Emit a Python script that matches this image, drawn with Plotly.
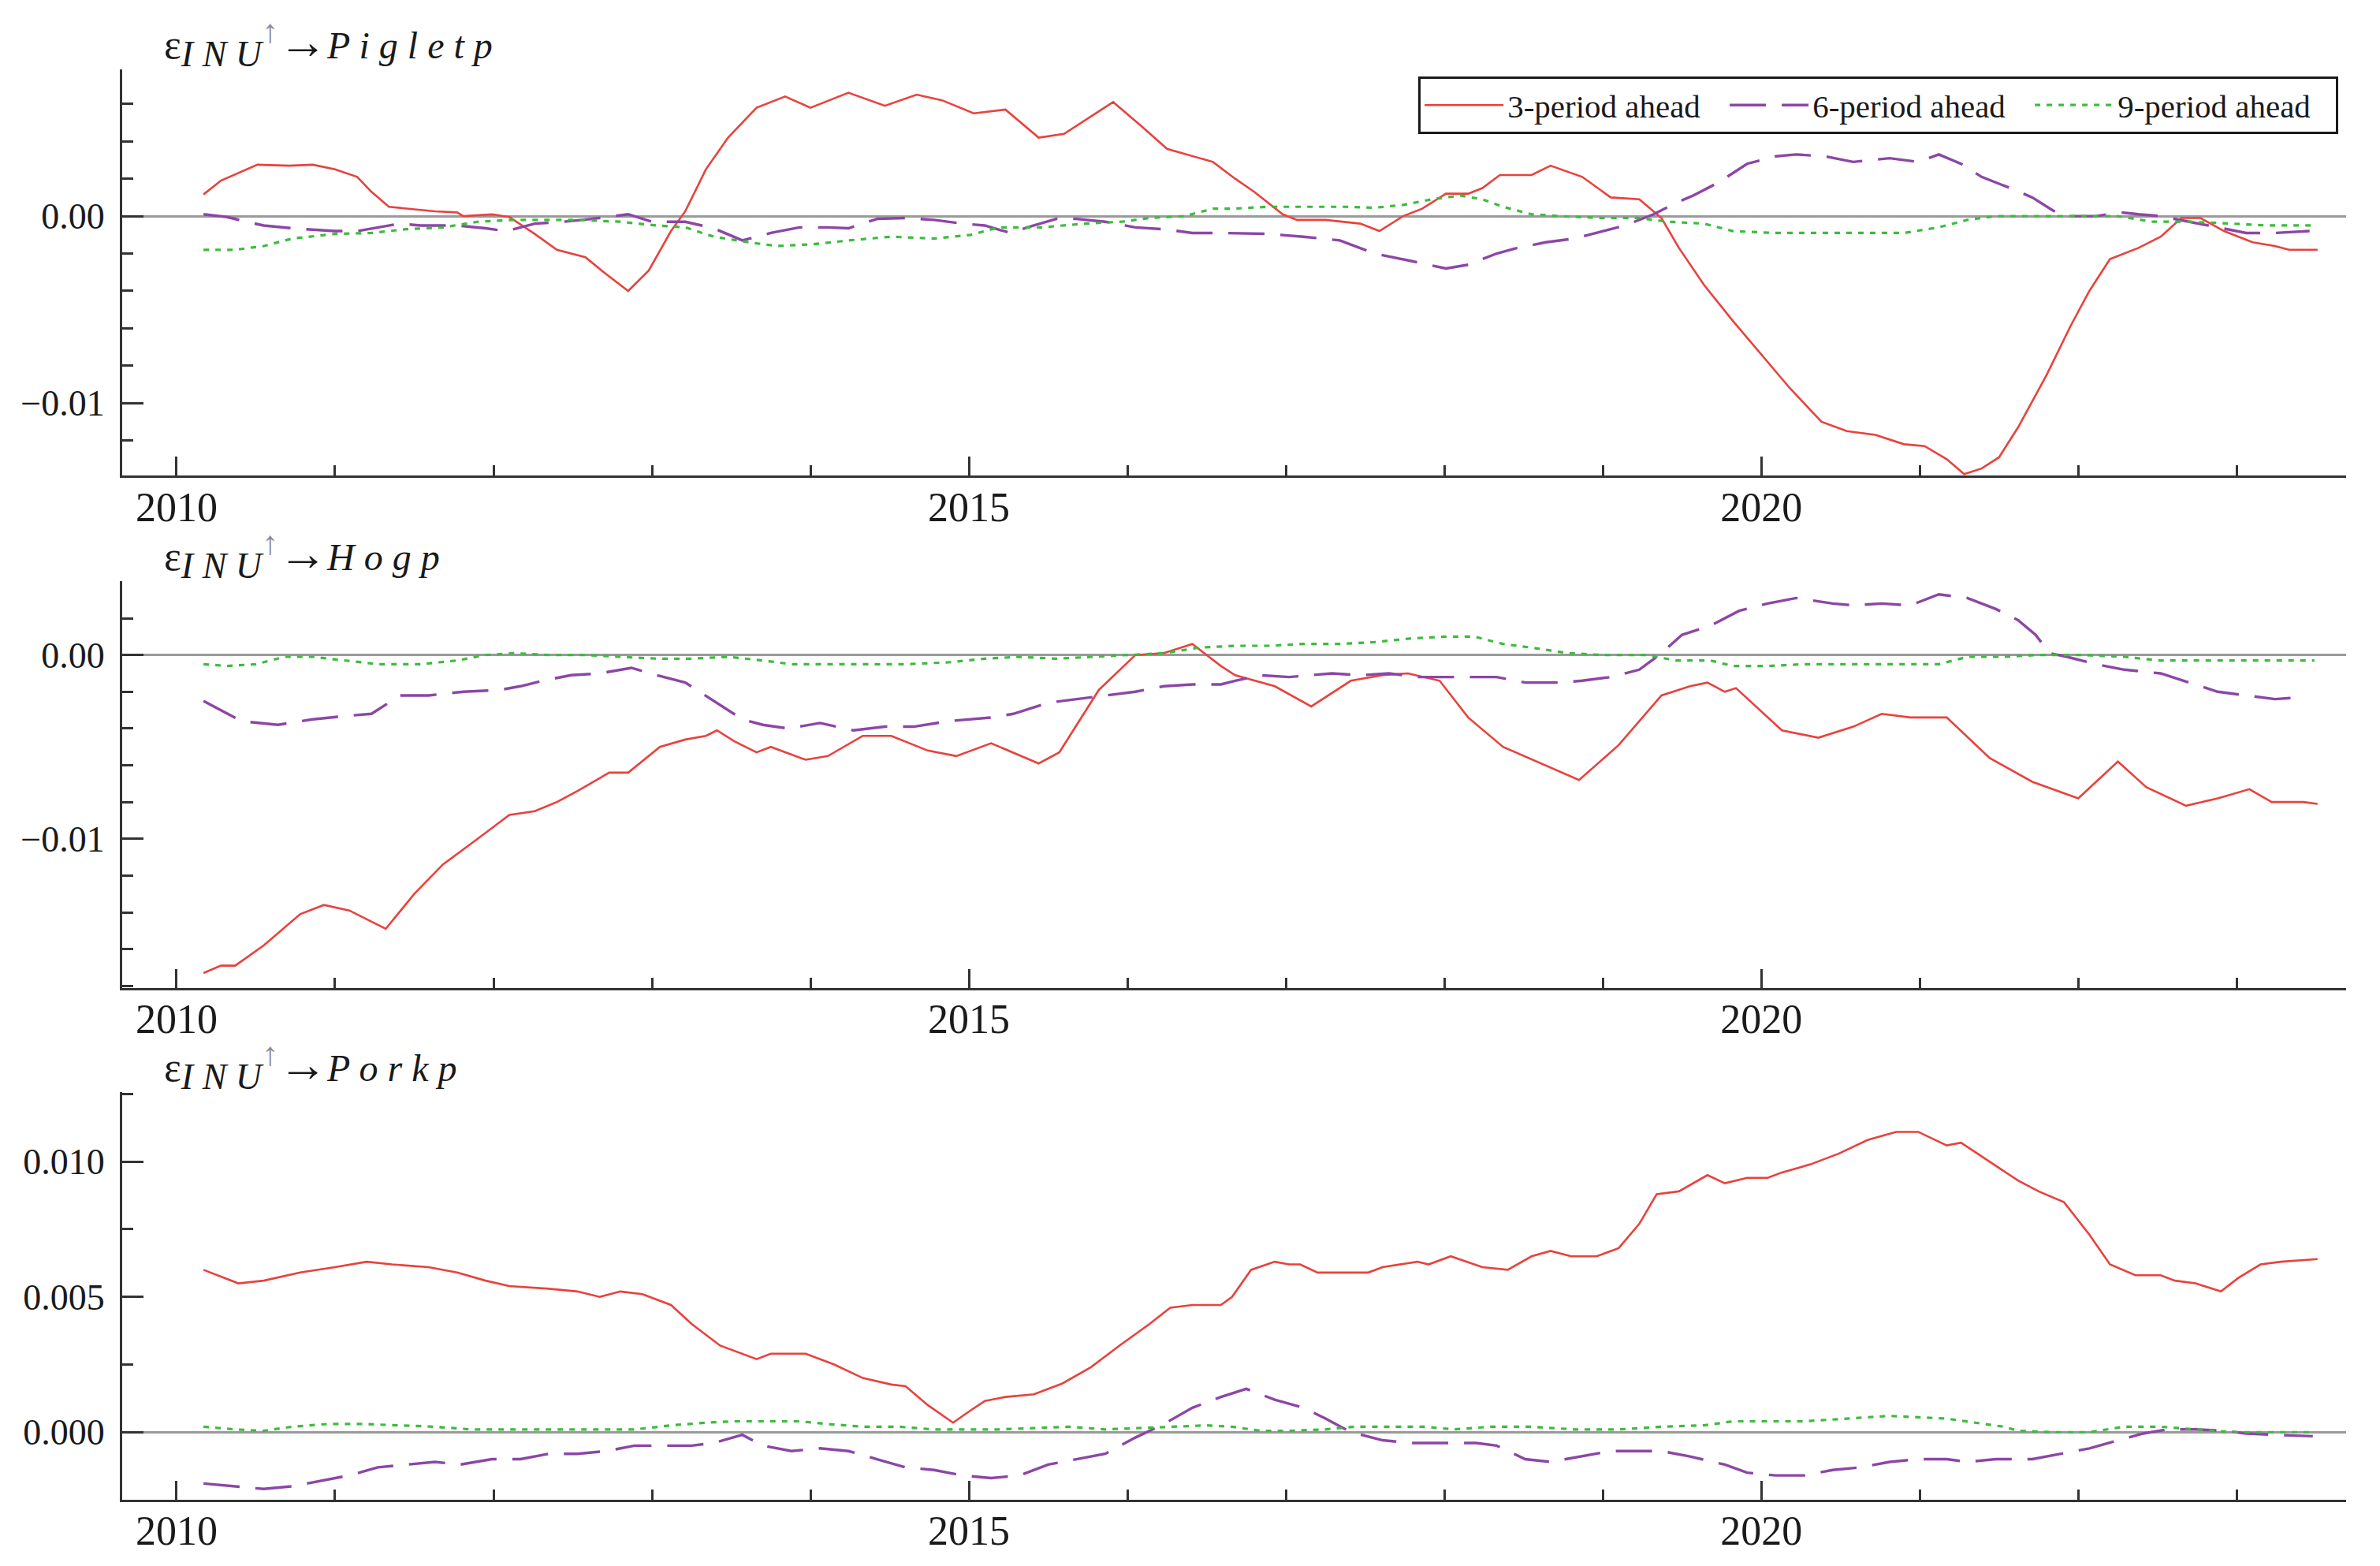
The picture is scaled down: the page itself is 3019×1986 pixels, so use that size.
import plotly.graph_objects as go

# ---------------- data (decimal years) ----------------
# Panel 1: INU -> Pigletp
p1_t3 = [2010.17, 2010.28, 2010.51, 2010.71, 2010.86, 2011.00, 2011.14, 2011.23, 2011.34, 2011.45,
         2011.63, 2011.77, 2011.81, 2011.99, 2012.10, 2012.26, 2012.40, 2012.58, 2012.71, 2012.85,
         2012.98, 2013.12, 2013.21, 2013.34, 2013.48, 2013.66, 2013.84, 2014.00, 2014.24, 2014.47,
         2014.67, 2014.83, 2015.03, 2015.23, 2015.44, 2015.60, 2015.91, 2016.09, 2016.25, 2016.54,
         2016.68, 2016.80, 2016.98, 2017.07, 2017.25, 2017.47, 2017.59, 2017.74, 2017.86, 2018.01,
         2018.15, 2018.24, 2018.35, 2018.55, 2018.67, 2018.87, 2019.05, 2019.23, 2019.37, 2019.48,
         2019.64, 2019.82, 2020.00, 2020.18, 2020.38, 2020.54, 2020.72, 2020.90, 2021.03, 2021.17,
         2021.28, 2021.39, 2021.50, 2021.62, 2021.80, 2021.95, 2022.07, 2022.20, 2022.38, 2022.52,
         2022.65, 2022.77, 2022.92, 2023.10, 2023.24, 2023.33, 2023.51]
p1_v3 = [0.00116, 0.0019, 0.00275, 0.0027, 0.00275, 0.0025, 0.0021, 0.0013, 0.0005, 0.0004,
         0.00026, 0.0002, 0.0, 0.0001, -0.00005, -0.00095, -0.0018, -0.0022, -0.0031, -0.0040,
         -0.0029, -0.0008, 0.00026, 0.0025, 0.0042, 0.0058, 0.0064, 0.0058, 0.0066, 0.0059,
         0.0065, 0.0062, 0.0055, 0.0057, 0.0042, 0.0044, 0.0061, 0.0048, 0.0036, 0.0029,
         0.0020, 0.0013, 0.0001, -0.0002, -0.0002, -0.0004, -0.0008, 0.0, 0.0004, 0.0012,
         0.0012, 0.0015, 0.0022, 0.0022, 0.0027, 0.0021, 0.0010, 0.0009, -0.0001, -0.0017,
         -0.0037, -0.0056, -0.0074, -0.0092, -0.0110, -0.0115, -0.0117, -0.0122, -0.0123, -0.0130,
         -0.0138, -0.0135, -0.0129, -0.0113, -0.0085, -0.0059, -0.0040, -0.0023, -0.0017, -0.0011,
         -0.0001, -0.0001, -0.0008, -0.0014, -0.0016, -0.0018, -0.0018]

p1_t6 = [2010.17, 2010.32, 2010.44, 2010.55, 2010.73, 2011.00, 2011.14, 2011.27, 2011.41, 2011.54,
         2011.77, 2011.95, 2012.08, 2012.26, 2012.44, 2012.62, 2012.85, 2013.00, 2013.21, 2013.39,
         2013.57, 2013.75, 2013.93, 2014.11, 2014.24, 2014.42, 2014.60, 2014.78, 2014.96, 2015.10,
         2015.26, 2015.41, 2015.55, 2015.68, 2015.86, 2016.05, 2016.23, 2016.41, 2016.59, 2016.89,
         2017.11, 2017.34, 2017.56, 2017.79, 2018.01, 2018.15, 2018.33, 2018.46, 2018.64, 2018.82,
         2019.00, 2019.14, 2019.32, 2019.46, 2019.57, 2019.73, 2019.91, 2020.09, 2020.22, 2020.40,
         2020.58, 2020.81, 2020.99, 2021.12, 2021.26, 2021.39, 2021.57, 2021.71, 2021.84, 2021.93,
         2022.11, 2022.27, 2022.38, 2022.52, 2022.70, 2022.88, 2023.06, 2023.24, 2023.46]
p1_v6 = [0.0001, -0.00005, -0.0003, -0.0005, -0.00065, -0.0008, -0.0008, -0.0006, -0.0004, -0.0005,
         -0.0005, -0.00065, -0.0008, -0.0004, -0.0003, -0.00015, 0.0001, -0.0003, -0.0003, -0.00065,
         -0.0013, -0.0009, -0.0006, -0.0006, -0.00065, -0.00015, -0.0001, -0.0002, -0.0004, -0.0005,
         -0.0009, -0.0005, -0.00015, -0.00015, -0.0003, -0.0006, -0.0007, -0.0009, -0.0009, -0.00095,
         -0.0011, -0.0013, -0.0020, -0.0024, -0.0028, -0.0026, -0.0020, -0.0017, -0.0014, -0.0012,
         -0.0008, -0.0005, 0.0001, 0.0007, 0.0011, 0.0018, 0.0028, 0.0032, 0.0033, 0.0032,
         0.0029, 0.0031, 0.0029, 0.0033, 0.0028, 0.0021, 0.0015, 0.0010, 0.0003, 0.0,
         0.0, 0.0002, 0.0001, 0.0, -0.0003, -0.0006, -0.0009, -0.0009, -0.0008]

p1_t9 = [2010.17, 2010.37, 2010.55, 2010.73, 2011.00, 2011.23, 2011.45, 2011.68, 2011.90, 2012.13,
         2012.35, 2012.53, 2012.80, 2013.03, 2013.21, 2013.39, 2013.61, 2013.79, 2014.02, 2014.24,
         2014.51, 2014.78, 2015.01, 2015.19, 2015.46, 2015.73, 2015.96, 2016.14, 2016.36, 2016.54,
         2016.66, 2016.89, 2017.11, 2017.38, 2017.56, 2017.74, 2017.92, 2018.10, 2018.24, 2018.37,
         2018.55, 2018.73, 2019.00, 2019.23, 2019.41, 2019.64, 2019.82, 2020.09, 2020.36, 2020.63,
         2020.90, 2021.12, 2021.30, 2021.48, 2021.71, 2021.98, 2022.25, 2022.47, 2022.70, 2022.97,
         2023.19, 2023.49]
p1_v9 = [-0.0018, -0.0018, -0.0016, -0.0012, -0.00095, -0.0009, -0.0007, -0.0006, -0.0003, -0.0002,
         -0.0002, -0.0002, -0.0003, -0.0005, -0.0006, -0.0011, -0.0014, -0.0016, -0.0015, -0.0013,
         -0.0011, -0.0012, -0.0010, -0.0006, -0.0006, -0.0004, -0.0003, -0.0001, 0.0, 0.0004,
         0.0004, 0.0005, 0.0005, 0.0005, 0.00045, 0.0006, 0.0009, 0.0011, 0.0009, 0.0005,
         0.0001, 0.0, -0.0001, -0.0001, -0.0003, -0.0004, -0.0008, -0.0009, -0.0009, -0.0009,
         -0.0009, -0.0006, -0.0002, 0.0, 0.0, 0.0, 0.0, -0.0003, -0.0003, -0.0004,
         -0.0005, -0.0005]

# Panel 2: INU -> Hogp
p2_t3 = [2010.17, 2010.28, 2010.37, 2010.55, 2010.78, 2010.93, 2011.09, 2011.32, 2011.50, 2011.68,
         2011.90, 2012.10, 2012.26, 2012.40, 2012.53, 2012.73, 2012.85, 2013.05, 2013.21, 2013.34,
         2013.41, 2013.52, 2013.66, 2013.75, 2013.97, 2014.11, 2014.33, 2014.51, 2014.74, 2014.92,
         2015.14, 2015.44, 2015.57, 2015.82, 2016.05, 2016.23, 2016.41, 2016.59, 2016.68, 2016.93,
         2017.16, 2017.41, 2017.61, 2017.77, 2017.97, 2018.15, 2018.37, 2018.64, 2018.85, 2019.10,
         2019.37, 2019.55, 2019.66, 2019.77, 2019.84, 2020.13, 2020.36, 2020.58, 2020.76, 2020.94,
         2021.17, 2021.44, 2021.71, 2022.00, 2022.25, 2022.43, 2022.68, 2022.88, 2023.08, 2023.22,
         2023.42, 2023.51]
p2_v3 = [-0.0173, -0.0169, -0.0169, -0.0158, -0.0141, -0.0136, -0.0139, -0.0149, -0.0130, -0.0114,
         -0.0100, -0.0087, -0.0085, -0.0080, -0.0074, -0.0064, -0.0064, -0.0050, -0.0046, -0.0044,
         -0.0041, -0.0047, -0.0053, -0.0050, -0.0057, -0.0055, -0.0044, -0.0044, -0.0052, -0.0055,
         -0.0048, -0.0059, -0.0053, -0.0019, 0.0, 0.0001, 0.0006, -0.0006, -0.0011, -0.0017,
         -0.0028, -0.0014, -0.0011, -0.0010, -0.0014, -0.0034, -0.0050, -0.0060, -0.0068, -0.0049,
         -0.0022, -0.0017, -0.0015, -0.0020, -0.0018, -0.0041, -0.0045, -0.0039, -0.0032, -0.0034,
         -0.0034, -0.0056, -0.0069, -0.0078, -0.0058, -0.0072, -0.0082, -0.0078, -0.0073, -0.0080,
         -0.0080, -0.0081]

p2_t6 = [2010.17, 2010.41, 2010.64, 2010.86, 2011.09, 2011.23, 2011.41, 2011.59, 2011.81, 2012.04,
         2012.17, 2012.31, 2012.49, 2012.67, 2012.87, 2013.03, 2013.21, 2013.39, 2013.57, 2013.70,
         2013.86, 2014.06, 2014.27, 2014.47, 2014.65, 2014.87, 2015.14, 2015.28, 2015.50, 2015.68,
         2015.86, 2016.05, 2016.23, 2016.41, 2016.59, 2016.68, 2016.84, 2017.02, 2017.29, 2017.47,
         2017.65, 2017.83, 2018.06, 2018.33, 2018.51, 2018.73, 2018.87, 2019.05, 2019.23, 2019.37,
         2019.50, 2019.68, 2019.86, 2020.04, 2020.22, 2020.45, 2020.58, 2020.76, 2020.94, 2021.12,
         2021.30, 2021.48, 2021.62, 2021.73, 2021.82, 2021.93, 2022.11, 2022.29, 2022.52, 2022.70,
         2022.88, 2023.06, 2023.24, 2023.42]
p2_v6 = [-0.0025, -0.0036, -0.0038, -0.0035, -0.0033, -0.0032, -0.0022, -0.0022, -0.0020, -0.0019,
         -0.0017, -0.0014, -0.0011, -0.0010, -0.0007, -0.0011, -0.0015, -0.0025, -0.0035, -0.0038,
         -0.0040, -0.0037, -0.0041, -0.0039, -0.0039, -0.0036, -0.0034, -0.0032, -0.0026, -0.0024,
         -0.0022, -0.0020, -0.0017, -0.0016, -0.0016, -0.0014, -0.0011, -0.0012, -0.0010, -0.0011,
         -0.0010, -0.0012, -0.0012, -0.0012, -0.0015, -0.0015, -0.0014, -0.0012, -0.0008, 0.0001,
         0.0011, 0.0016, 0.0024, 0.0028, 0.0031, 0.0028, 0.0027, 0.0028, 0.0027, 0.0033,
         0.0031, 0.0025, 0.0019, 0.0011, 0.0001, -0.0001, -0.0005, -0.0008, -0.0010, -0.0015,
         -0.0020, -0.0022, -0.0024, -0.0023]

p2_t9 = [2010.17, 2010.32, 2010.50, 2010.68, 2010.86, 2011.05, 2011.27, 2011.54, 2011.77, 2011.95,
         2012.13, 2012.35, 2012.58, 2012.80, 2013.03, 2013.25, 2013.48, 2013.70, 2013.88, 2014.11,
         2014.38, 2014.60, 2014.87, 2015.10, 2015.32, 2015.55, 2015.78, 2016.00, 2016.23, 2016.45,
         2016.68, 2016.89, 2017.11, 2017.34, 2017.56, 2017.79, 2018.01, 2018.19, 2018.37, 2018.55,
         2018.78, 2019.00, 2019.28, 2019.46, 2019.68, 2019.82, 2020.04, 2020.27, 2020.49, 2020.72,
         2020.94, 2021.12, 2021.30, 2021.53, 2021.75, 2022.02, 2022.29, 2022.52, 2022.74, 2022.97,
         2023.19, 2023.49]
p2_v9 = [-0.0005, -0.0006, -0.0005, -0.0001, -0.0001, -0.0003, -0.0005, -0.0005, -0.0003, 0.0,
         0.0001, 0.0, 0.0, -0.0001, -0.0002, -0.0002, -0.0001, -0.0003, -0.0005, -0.0005,
         -0.0005, -0.0005, -0.0004, -0.0002, -0.0001, -0.0002, -0.0001, 0.0, 0.0001, 0.0004,
         0.0005, 0.0005, 0.0006, 0.0006, 0.0007, 0.0009, 0.0010, 0.0010, 0.0006, 0.0004,
         0.0001, 0.0, 0.0, -0.0003, -0.0003, -0.0006, -0.0006, -0.0005, -0.0005, -0.0005,
         -0.0005, -0.0005, -0.0001, -0.0001, 0.0, 0.0, -0.0001, -0.0003, -0.0003, -0.0003,
         -0.0003, -0.0003]

# Panel 3: INU -> Porkp
p3_t3 = [2010.17, 2010.39, 2010.55, 2010.78, 2011.00, 2011.20, 2011.36, 2011.59, 2011.77, 2011.95,
         2012.10, 2012.35, 2012.53, 2012.67, 2012.80, 2012.94, 2013.12, 2013.25, 2013.43, 2013.66,
         2013.75, 2013.97, 2014.15, 2014.33, 2014.51, 2014.60, 2014.74, 2014.90, 2015.01, 2015.10,
         2015.23, 2015.41, 2015.59, 2015.77, 2015.95, 2016.14, 2016.27, 2016.41, 2016.59, 2016.66,
         2016.78, 2016.93, 2017.02, 2017.09, 2017.20, 2017.38, 2017.52, 2017.61, 2017.83, 2017.90,
         2018.04, 2018.24, 2018.40, 2018.55, 2018.67, 2018.80, 2018.96, 2019.10, 2019.23, 2019.34,
         2019.48, 2019.66, 2019.77, 2019.91, 2020.04, 2020.13, 2020.31, 2020.49, 2020.67, 2020.85,
         2020.99, 2021.17, 2021.26, 2021.44, 2021.62, 2021.75, 2021.91, 2022.07, 2022.20, 2022.36,
         2022.52, 2022.61, 2022.74, 2022.90, 2023.01, 2023.15, 2023.28, 2023.51]
p3_v3 = [0.0060, 0.0055, 0.0056, 0.0059, 0.0061, 0.0063, 0.0062, 0.0061, 0.0059, 0.0056,
         0.0054, 0.0053, 0.0052, 0.0050, 0.0052, 0.0051, 0.0047, 0.0040, 0.0032, 0.0027,
         0.0029, 0.0029, 0.0025, 0.0020, 0.00176, 0.0017, 0.0010, 0.00035, 0.0008, 0.00115,
         0.0013, 0.0014, 0.0018, 0.0024, 0.0032, 0.0040, 0.0046, 0.0047, 0.0047, 0.0050,
         0.0060, 0.0063, 0.0062, 0.0062, 0.0059, 0.0059, 0.0059, 0.0061, 0.0063, 0.0062,
         0.0065, 0.0061, 0.0060, 0.0065, 0.0067, 0.0065, 0.0065, 0.0068, 0.0077, 0.0088,
         0.0089, 0.0095, 0.0092, 0.0094, 0.0094, 0.0096, 0.0099, 0.0103, 0.0108, 0.0111,
         0.0111, 0.0106, 0.0107, 0.0100, 0.0093, 0.0089, 0.0085, 0.0073, 0.0062, 0.0058,
         0.0058, 0.0056, 0.0055, 0.0052, 0.0057, 0.0062, 0.0063, 0.0064]

p3_t6 = [2010.17, 2010.37, 2010.55, 2010.73, 2010.91, 2011.09, 2011.27, 2011.45, 2011.63, 2011.79,
         2011.99, 2012.17, 2012.35, 2012.53, 2012.71, 2012.89, 2013.07, 2013.25, 2013.39, 2013.57,
         2013.70, 2013.88, 2014.06, 2014.24, 2014.42, 2014.60, 2014.78, 2014.96, 2015.14, 2015.32,
         2015.50, 2015.68, 2015.86, 2016.05, 2016.23, 2016.41, 2016.59, 2016.75, 2016.93, 2017.11,
         2017.25, 2017.41, 2017.61, 2017.79, 2017.97, 2018.20, 2018.33, 2018.51, 2018.67, 2018.87,
         2019.05, 2019.19, 2019.37, 2019.55, 2019.77, 2019.91, 2020.09, 2020.27, 2020.45, 2020.63,
         2020.81, 2020.99, 2021.17, 2021.30, 2021.48, 2021.71, 2021.89, 2022.07, 2022.25, 2022.41,
         2022.56, 2022.74, 2022.92, 2023.06, 2023.24, 2023.48]
p3_v6 = [-0.0019, -0.0020, -0.0021, -0.0020, -0.0018, -0.0016, -0.0013, -0.0012, -0.0011, -0.0012,
         -0.0010, -0.0010, -0.0008, -0.0008, -0.0007, -0.0005, -0.0005, -0.0005, -0.0004, -0.0001,
         -0.0005, -0.0007, -0.0006, -0.0007, -0.0010, -0.0013, -0.0014, -0.0016, -0.0017, -0.0016,
         -0.0012, -0.0010, -0.0008, -0.0002, 0.0003, 0.0009, 0.0013, 0.0016, 0.0012, 0.0009,
         0.0005, 0.0, -0.0003, -0.0004, -0.0004, -0.0004, -0.0005, -0.0010, -0.0011, -0.0009,
         -0.0007, -0.0007, -0.0007, -0.0009, -0.0012, -0.0015, -0.0016, -0.0016, -0.0014, -0.0013,
         -0.0011, -0.0010, -0.0010, -0.0011, -0.0010, -0.0010, -0.0008, -0.0006, -0.0003, -0.00005,
         0.0001, 0.0001, 0.00005, -0.00005, -0.0001, -0.00015]

p3_t9 = [2010.17, 2010.37, 2010.55, 2010.73, 2010.95, 2011.18, 2011.41, 2011.63, 2011.86, 2012.08,
         2012.35, 2012.62, 2012.89, 2013.12, 2013.34, 2013.52, 2013.75, 2013.93, 2014.11, 2014.33,
         2014.56, 2014.78, 2014.96, 2015.19, 2015.41, 2015.64, 2015.86, 2016.05, 2016.27, 2016.50,
         2016.66, 2016.84, 2017.02, 2017.25, 2017.43, 2017.65, 2017.88, 2018.06, 2018.29, 2018.55,
         2018.82, 2019.10, 2019.37, 2019.64, 2019.82, 2020.04, 2020.27, 2020.54, 2020.81, 2020.99,
         2021.17, 2021.35, 2021.53, 2021.62, 2021.84, 2022.07, 2022.29, 2022.52, 2022.74, 2022.97,
         2023.19, 2023.48]
p3_v9 = [0.0002, 0.0001, 0.00005, 0.0002, 0.0003, 0.0003, 0.00025, 0.0002, 0.0001, 0.0001,
         0.0001, 0.0001, 0.0001, 0.00025, 0.00035, 0.0004, 0.0004, 0.0004, 0.0003, 0.0002,
         0.0002, 0.0001, 0.0001, 0.0001, 0.00015, 0.0002, 0.0001, 0.00015, 0.0002, 0.00025,
         0.0002, 0.00005, 0.00005, 0.0001, 0.0002, 0.0002, 0.0002, 0.0001, 0.0002, 0.0002,
         0.0001, 0.0001, 0.0002, 0.00025, 0.0004, 0.0004, 0.0004, 0.0005, 0.0006, 0.00055,
         0.0005, 0.00035, 0.0002, 0.00005, 0.0, 0.0, 0.0002, 0.0002, 0.0001, 0.0,
         0.0, 0.0]

series_names = ["3-period ahead", "6-period ahead", "9-period ahead"]
panel_targets = ["P i g l e t p", "H o g p", "P o r k p"]
x_major_ticks = [2010, 2015, 2020]


def title_html(target):
    return ("<span style='font-size:52px'>ε</span>"
            "<sub><span style='font-size:46px'><i>I N U</i></span></sub>"
            "<sup><span style='font-size:42px;color:#8c8c8c'>↑</span></sup>"
            "<span style='font-size:62px'>→</span>"
            f"<i>{target}</i>")


# ---------------- styling ----------------
FONT = "Liberation Serif"
AX = "#333333"
colors = ["#e8423d", "#8c46a6", "#3dbb3d"]
dashes = ["solid", "46px,20px", "7px,8px"]
widths = [2.6, 3.4, 3.2]

panels = [
    ([p1_t3, p1_t6, p1_t9], [p1_v3, p1_v6, p1_v9]),
    ([p2_t3, p2_t6, p2_t9], [p2_v3, p2_v6, p2_v9]),
    ([p3_t3, p3_t6, p3_t9], [p3_v3, p3_v6, p3_v9]),
]
y_ranges = [[-0.01388, 0.00785], [-0.0181, 0.0040], [-0.0025, 0.01257]]
y_dticks = [0.01, 0.01, 0.005]
y_minor = [0.002, 0.002, 0.0025]
y_formats = [".2f", ".2f", ".3f"]
domains = [[0.716, 1.0], [0.358, 0.642], [0.0, 0.285]]

fig = go.Figure()
for i, (ts, vs) in enumerate(panels):
    for k in range(3):
        fig.add_trace(go.Scatter(
            x=ts[k], y=vs[k], mode="lines", name=series_names[k],
            line=dict(color=colors[k], width=widths[k], dash=dashes[k]),
            xaxis="x" if i == 0 else f"x{i+1}",
            yaxis="y" if i == 0 else f"y{i+1}",
            showlegend=(i == 0),
        ))

layout = dict(
    width=3019, height=1986,
    paper_bgcolor="white", plot_bgcolor="white",
    margin=dict(l=147, r=51, t=80, b=92),
    font=dict(family=FONT, color="#1a1a1a", size=46),
    legend=dict(
        orientation="h", x=0.9965, xanchor="right", y=0.995, yanchor="top",
        bgcolor="white", bordercolor="#1a1a1a", borderwidth=3,
        font=dict(family=FONT, size=41, color="#1a1a1a"),
        itemwidth=100, entrywidth=272, entrywidthmode="pixels",
        tracegroupgap=0,
    ),
    annotations=[],
)

for i in range(3):
    xname = "xaxis" if i == 0 else f"xaxis{i+1}"
    yname = "yaxis" if i == 0 else f"yaxis{i+1}"
    ya = "y" if i == 0 else f"y{i+1}"
    xa = "x" if i == 0 else f"x{i+1}"
    layout[xname] = dict(
        domain=[0, 1], anchor=ya, range=[2009.657, 2023.69],
        showgrid=False, zeroline=False,
        showline=True, linecolor=AX, linewidth=3,
        ticks="inside", ticklen=24, tickwidth=2.5, tickcolor=AX,
        tickmode="array", tickvals=x_major_ticks, ticktext=[str(v) for v in x_major_ticks],
        minor=dict(dtick=1, tick0=2010, ticks="inside", ticklen=13, tickwidth=2.5, tickcolor=AX, showgrid=False),
        tickfont=dict(family=FONT, size=52, color="#1a1a1a"),
        ticklabelstandoff=-8,
    )
    layout[yname] = dict(
        domain=domains[i], anchor=xa, range=y_ranges[i],
        showgrid=False,
        zeroline=True, zerolinecolor="#9a9a9a", zerolinewidth=3,
        showline=True, linecolor=AX, linewidth=3,
        ticks="inside", ticklen=27, tickwidth=2.5, tickcolor=AX,
        tick0=0, dtick=y_dticks[i], tickformat=y_formats[i],
        minor=dict(dtick=y_minor[i], tick0=0, ticks="inside", ticklen=14, tickwidth=2.5, tickcolor=AX, showgrid=False),
        tickfont=dict(family=FONT, size=46, color="#1a1a1a"),
        ticklabelstandoff=10,
    )
    layout["annotations"].append(dict(
        text=title_html(panel_targets[i]), xref="paper", yref="paper",
        x=0.0185, y=domains[i][1], xanchor="left", yanchor="bottom",
        yshift=-7, showarrow=False, borderpad=0,
        font=dict(family=FONT, size=48, color="#1a1a1a"),
    ))

fig.update_layout(**layout)
fig.write_html("out.html")
